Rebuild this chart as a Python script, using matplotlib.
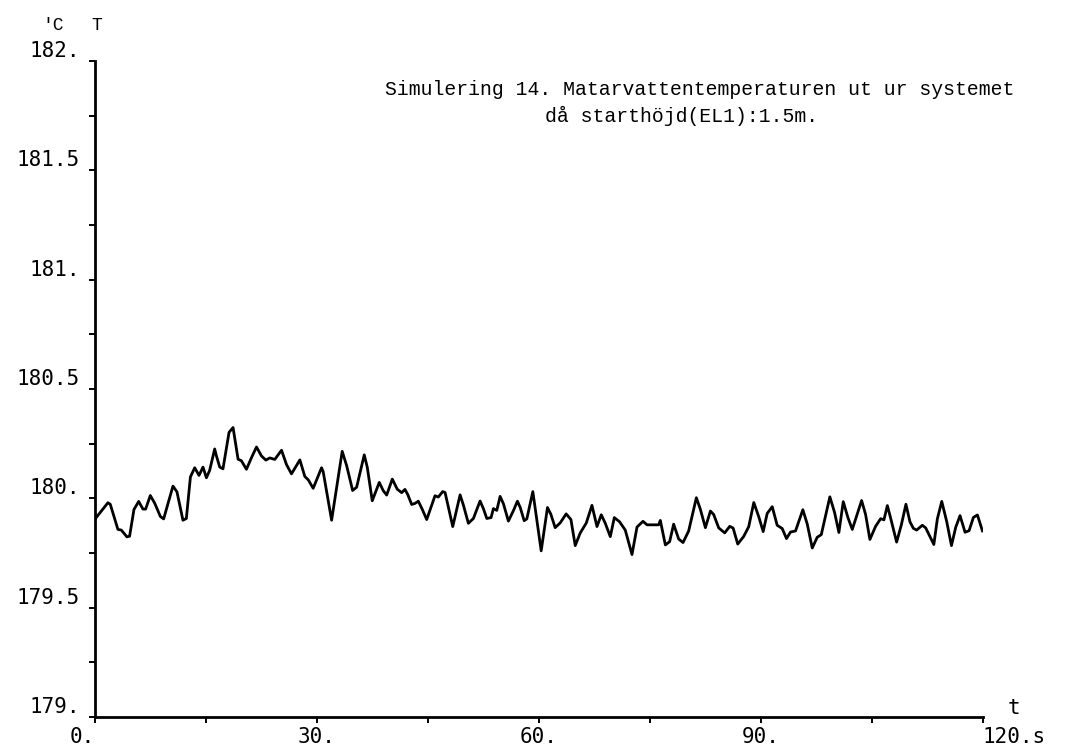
import matplotlib
matplotlib.use("Agg")
import matplotlib.pyplot as plt
from matplotlib.ticker import MultipleLocator

# Feed water outlet temperature, simulation 14 (time in s, temperature in deg C)
time_s = [
    0.0, 1.75, 2.07, 3.10, 3.56, 4.32, 4.68, 5.27, 5.91, 6.48, 6.85, 7.48, 8.07, 8.84, 9.28,
    10.54, 11.08, 11.89, 12.35, 12.90, 13.48, 14.06, 14.60, 15.06, 15.50, 16.18, 16.40, 16.86,
    17.30, 18.12, 18.66, 19.34, 19.79, 20.47, 21.15, 21.83, 22.50, 23.09, 23.63, 24.30, 25.21,
    25.89, 26.56, 27.69, 28.36, 28.82, 29.49,
    30.62, 30.84, 31.98, 33.41, 34.00, 34.82, 35.36, 36.39, 36.80, 37.47, 38.42, 38.96, 39.42,
    40.18, 40.85, 41.45, 41.89, 42.26, 42.80, 43.25, 43.70, 44.24, 44.83, 45.95, 46.40, 46.99,
    47.31, 48.35, 49.34, 49.78, 50.46, 51.14, 52.04, 52.49, 52.95, 53.53, 53.84, 54.30, 54.75,
    55.20, 55.87, 56.55, 57.09, 57.46, 58.00, 58.36, 59.17,
    60.30, 61.15, 61.61, 62.19, 62.87, 63.68, 64.32, 64.90, 65.58, 66.39, 67.16, 67.84, 68.42,
    68.96, 69.64, 70.18, 70.89, 71.66, 72.57, 73.25, 74.06, 74.60, 76.17, 76.40, 77.08, 77.66,
    78.20, 78.88, 79.47, 80.23, 81.27, 81.81, 82.49, 83.17, 83.61, 84.29, 85.10, 85.78, 86.24,
    86.86, 87.67, 88.35, 89.03,
    89.70, 90.30, 90.84, 91.52, 92.19, 92.87, 93.45, 93.99, 94.67, 95.66, 96.25, 96.93, 97.60,
    98.15, 99.31, 99.95, 100.53, 101.12, 101.75, 102.34, 103.60, 104.14, 104.72, 105.49, 106.17,
    106.62, 107.08, 107.52, 108.33, 108.97, 109.59, 110.13, 110.59, 111.04, 111.81, 112.26,
    113.36, 113.84, 114.43, 115.10, 115.74, 116.32, 116.90, 117.58, 118.12, 118.71, 119.25, 119.93,
]
temp_c = [
    179.905, 179.980, 179.973, 179.858, 179.855, 179.824, 179.827, 179.949, 179.986, 179.951,
    179.951, 180.013, 179.978, 179.917, 179.906, 180.056, 180.030, 179.900, 179.908, 180.098,
    180.140, 180.105, 180.143, 180.094, 180.128, 180.226, 180.196, 180.143, 180.135, 180.302,
    180.324, 180.179, 180.172, 180.133, 180.186, 180.235, 180.194, 180.175, 180.185, 180.178,
    180.220, 180.154, 180.112, 180.176, 180.100, 180.085, 180.046,
    180.140, 180.122, 179.900, 180.215, 180.151, 180.036, 180.051, 180.199, 180.142, 179.989,
    180.073, 180.035, 180.015, 180.088, 180.042, 180.026, 180.041, 180.018, 179.972, 179.977,
    179.987, 179.949, 179.903, 180.012, 180.006, 180.031, 180.027, 179.871, 180.016, 179.970,
    179.886, 179.908, 179.988, 179.953, 179.908, 179.912, 179.953, 179.945, 180.009, 179.975,
    179.896, 179.944, 179.987, 179.959, 179.898, 179.906, 180.031,
    179.760, 179.958, 179.927, 179.866, 179.888, 179.929, 179.903, 179.784, 179.842, 179.887,
    179.968, 179.871, 179.925, 179.886, 179.825, 179.912, 179.893, 179.855, 179.743, 179.869,
    179.895, 179.879, 179.879, 179.899, 179.787, 179.802, 179.882, 179.814, 179.798, 179.851,
    180.003, 179.950, 179.866, 179.942, 179.926, 179.865, 179.842, 179.872, 179.864, 179.791,
    179.826, 179.871, 179.981,
    179.916, 179.848, 179.931, 179.962, 179.877, 179.862, 179.816, 179.846, 179.851, 179.948,
    179.883, 179.773, 179.822, 179.834, 180.007, 179.935, 179.844, 179.985, 179.912, 179.858,
    179.990, 179.926, 179.812, 179.872, 179.907, 179.902, 179.967, 179.910, 179.800, 179.879,
    179.973, 179.893, 179.863, 179.855, 179.877, 179.865, 179.789, 179.907, 179.986, 179.894,
    179.784, 179.868, 179.921, 179.845, 179.852, 179.913, 179.924, 179.851,
]

x_ticks = [0, 30, 60, 90, 120]
x_tick_labels = ["0.", "30.", "60.", "90.", "120.s"]
y_ticks = [179.0, 179.5, 180.0, 180.5, 181.0, 181.5, 182.0]
y_tick_labels = ["179.", "179.5", "180.", "180.5", "181.", "181.5", "182."]

title_lines = ["Simulering 14. Matarvattentemperaturen ut ur systemet",
               "då starthöjd(EL1):1.5m."]

mono = "DejaVu Sans Mono"
typewriter = "Liberation Mono"

fig = plt.figure(figsize=(10.84, 7.49), dpi=100)
ax = fig.add_axes([0.0876, 0.0427, 0.8192, 0.8758])

ax.plot(time_s, temp_c, color="black", lw=2.0, solid_joinstyle="round")

ax.set_xlim(0, 120)
ax.set_ylim(179, 182)

for side in ("top", "right"):
    ax.spines[side].set_visible(False)
for side in ("left", "bottom"):
    ax.spines[side].set_linewidth(2.0)
    ax.spines[side].set_color("black")

ax.set_xticks(x_ticks, x_tick_labels, fontfamily=mono, fontsize=15)
ax.set_yticks(y_ticks, y_tick_labels, fontfamily=mono, fontsize=15)
ax.xaxis.set_minor_locator(MultipleLocator(15))
ax.yaxis.set_minor_locator(MultipleLocator(0.25))
ax.tick_params(axis="both", which="both", direction="out", length=4, width=1.4, color="black")
ax.tick_params(axis="y", which="major", pad=7)
ax.tick_params(axis="x", which="major", pad=3)

for lbl in ax.get_yticklabels():
    lbl.set_verticalalignment("bottom")
xlbls = ax.get_xticklabels()
xlbls[0].set_horizontalalignment("right")
xlbls[-1].set_horizontalalignment("left")

# axis unit captions
fig.text(42 / 1084, 1 - 30 / 749, "'C", fontfamily=typewriter, fontsize=13, va="baseline")
fig.text(91 / 1084, 1 - 30 / 749, "T", fontfamily=typewriter, fontsize=13, va="baseline")
fig.text(1008 / 1084, 1 - 714 / 749, "t", fontfamily=mono, fontsize=15, va="baseline")

fig.text(385 / 1084, 1 - 95 / 749, title_lines[0], fontfamily=typewriter, fontsize=14.2,
         va="baseline")
fig.text(545 / 1084, 1 - 122 / 749, title_lines[1], fontfamily=typewriter, fontsize=14.2,
         va="baseline")

fig.savefig("out.png", dpi=100, facecolor="white")
